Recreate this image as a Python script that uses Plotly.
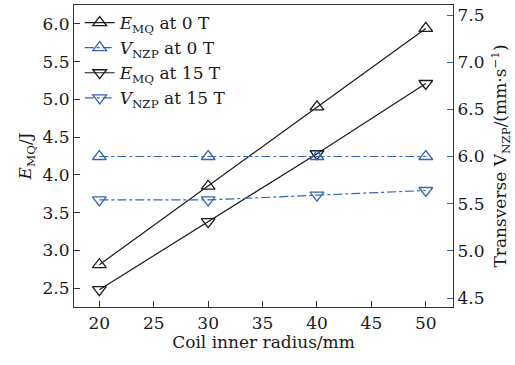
import plotly.graph_objects as go

radius = [20, 30, 40, 50]
e_mq_0T = [2.81, 3.85, 4.90, 5.94]
e_mq_15T = [2.48, 3.38, 4.28, 5.21]
v_nzp_0T = [6.00, 6.00, 6.00, 6.00]
v_nzp_15T = [5.54, 5.54, 5.59, 5.64]

x_ticks = [20, 25, 30, 35, 40, 45, 50]
y1_ticks = [2.5, 3.0, 3.5, 4.0, 4.5, 5.0, 5.5, 6.0]
y2_ticks = [4.5, 5.0, 5.5, 6.0, 6.5, 7.0, 7.5]

BLACK = "#1a1a1a"
BLUE = "#3565b8"
FONT = "DejaVu Serif"
FS = 17

fig = go.Figure()
fig.add_trace(go.Scatter(
    x=radius, y=e_mq_0T, name="<i>E</i><sub>MQ</sub> at 0 T", mode="lines+markers",
    line=dict(color=BLACK, width=1.2),
    marker=dict(symbol="triangle-up-open", size=12, color=BLACK, line=dict(width=1.3)),
))
fig.add_trace(go.Scatter(
    x=radius, y=v_nzp_0T, name="<i>V</i><sub>NZP</sub> at 0 T", mode="lines+markers", yaxis="y2",
    line=dict(color=BLUE, width=1.2, dash="dashdot"),
    marker=dict(symbol="triangle-up-open", size=12, color=BLUE, line=dict(width=1.3)),
))
fig.add_trace(go.Scatter(
    x=radius, y=e_mq_15T, name="<i>E</i><sub>MQ</sub> at 15 T", mode="lines+markers",
    line=dict(color=BLACK, width=1.2),
    marker=dict(symbol="triangle-down-open", size=12, color=BLACK, line=dict(width=1.3)),
))
fig.add_trace(go.Scatter(
    x=radius, y=v_nzp_15T, name="<i>V</i><sub>NZP</sub> at 15 T", mode="lines+markers", yaxis="y2",
    line=dict(color=BLUE, width=1.2, dash="dashdot"),
    marker=dict(symbol="triangle-down-open", size=12, color=BLUE, line=dict(width=1.3)),
))

fig.update_layout(
    width=515, height=365,
    margin=dict(l=74, r=62, t=5, b=58),
    paper_bgcolor="white", plot_bgcolor="white",
    font=dict(family=FONT, size=FS, color=BLACK),
    showlegend=True,
    legend=dict(x=0.015, y=1.0, xanchor="left", yanchor="top", bgcolor="rgba(0,0,0,0)",
                font=dict(size=FS), tracegroupgap=0, itemwidth=30),
    xaxis=dict(
        range=[17.67, 52.5], tickvals=x_ticks, ticks="inside", ticklen=6, tickcolor="#333",
        showline=True, linecolor="#333", linewidth=1.2, mirror=True, showgrid=False, zeroline=False,
        title=dict(text="Coil inner radius/mm", standoff=4, font=dict(size=FS)),
        tickfont=dict(size=FS),
    ),
    yaxis=dict(
        range=[2.25, 6.25], tickvals=y1_ticks, tickformat=".1f", ticks="inside", ticklen=6, tickcolor="#333",
        showline=True, linecolor="#333", linewidth=1.2, showgrid=False, zeroline=False,
        title=dict(text="<i>E</i><sub>MQ</sub>/J", standoff=6, font=dict(size=FS)),
        tickfont=dict(size=FS),
    ),
    yaxis2=dict(
        range=[4.405, 7.606], tickvals=y2_ticks, tickformat=".1f", overlaying="y", side="right",
        ticks="inside", ticklen=6, tickcolor=BLUE,
        showline=True, linecolor="#333", linewidth=1.2, showgrid=False, zeroline=False,
        title=dict(text="Transverse V<sub>NZP</sub>/(mm·s<sup>−1</sup>)", standoff=10, font=dict(size=FS)),
        tickfont=dict(size=FS),
    ),
)

fig.write_html("out.html")
